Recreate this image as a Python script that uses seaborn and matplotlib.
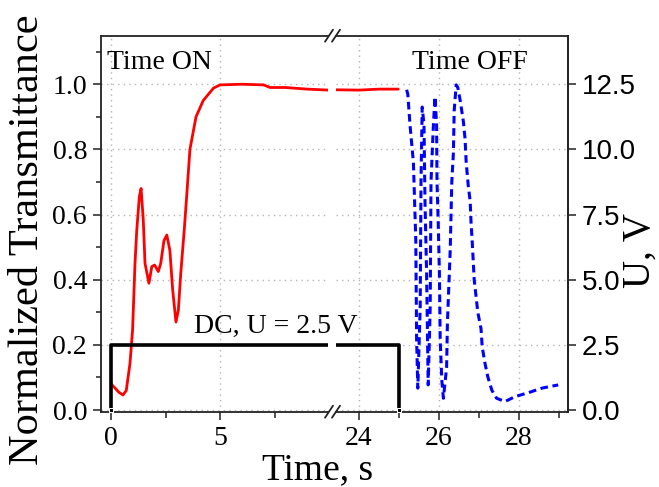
import numpy as np
import pandas as pd
import seaborn as sns
import matplotlib.pyplot as plt
from matplotlib.ticker import MultipleLocator, FixedLocator

# time ON, normalized transmittance (red)
on_t = [0, 0.15, 0.35, 0.55, 0.7, 0.87, 0.99, 1.1, 1.18, 1.3, 1.38, 1.48, 1.56, 1.74, 1.87,
        2.0, 2.17, 2.28, 2.43, 2.56, 2.7, 2.83, 2.98, 3.09, 3.2, 3.36, 3.47, 3.62, 3.9, 4.23,
        4.7, 5.0, 6.0, 7.0, 7.3, 8.0, 9.0, 10.0, 23.4, 24.0, 24.5, 24.98]
on_T = [0.08, 0.07, 0.055, 0.046, 0.06, 0.143, 0.246, 0.45, 0.55, 0.655, 0.68, 0.583, 0.45, 0.389, 0.44,
        0.445, 0.425, 0.45, 0.52, 0.537, 0.49, 0.368, 0.27, 0.307, 0.42, 0.553, 0.655, 0.80, 0.90, 0.95,
        0.988, 0.998, 1.0, 0.998, 0.99, 0.99, 0.985, 0.982, 0.983, 0.982, 0.985, 0.985]

# time OFF, normalized transmittance (blue dashed)
off_t = [25.19, 25.22, 25.275, 25.36, 25.42, 25.44, 25.47, 25.53, 25.55, 25.58, 25.625, 25.65, 25.69,
         25.73, 25.78, 25.8, 25.86, 25.9, 25.94, 25.95, 25.98, 26.01, 26.03, 26.07, 26.11, 26.19, 26.21,
         26.28, 26.32, 26.36, 26.38, 26.43, 26.47, 26.53, 26.61, 26.65, 26.68, 26.73, 26.78, 26.8, 26.83,
         26.88, 26.97, 27.05, 27.08, 27.15, 27.22, 27.32, 27.44, 27.65, 27.9, 28.23, 28.57, 28.98]
off_T = [0.983, 0.97, 0.875, 0.76, 0.52, 0.22, 0.067, 0.317, 0.70, 0.93, 0.875, 0.64, 0.42,
         0.077, 0.317, 0.70, 0.875, 0.962, 0.875, 0.70, 0.578, 0.42, 0.215, 0.092, 0.036, 0.13, 0.266,
         0.49, 0.70, 0.79, 0.92, 0.998, 0.99, 0.95, 0.885, 0.834, 0.76, 0.69, 0.64, 0.578, 0.517,
         0.40, 0.30, 0.25, 0.194, 0.143, 0.102, 0.061, 0.036, 0.026, 0.041, 0.053, 0.067, 0.077]

# DC voltage pulse
dc_t = [0, 0, 25, 25]
dc_U = [0, 2.5, 2.5, 0]

left_ticks = [0, 5]
right_ticks = [24, 26, 28]
T_ticks = [0.0, 0.2, 0.4, 0.6, 0.8, 1.0]
U_ticks = [0.0, 2.5, 5.0, 7.5, 10.0, 12.5]

sns.set_theme(style='ticks')
plt.rcParams['font.family'] = ['Liberation Serif', 'DejaVu Serif']
plt.rcParams['text.color'] = 'black'
plt.rcParams['xtick.labelcolor'] = 'black'
plt.rcParams['ytick.labelcolor'] = 'black'

W, H = 659, 487
def fx(px): return px / W
def fy(py): return 1 - py / H

fig = plt.figure(figsize=(6.59, 4.87), dpi=100)
ax_l = fig.add_axes([fx(101), fy(411.7), (328 - 101) / W, (411.7 - 35.7) / H])
ax_r = fig.add_axes([fx(336), fy(411.7), (568 - 336) / W, (411.7 - 35.7) / H])
ax_lu = ax_l.twinx()
ax_ru = ax_r.twinx()

spine_c = '#222222'
grid_kw = dict(color='#b5b5b5', linestyle=(0, (1, 3)), linewidth=1)

for ax in (ax_l, ax_r):
    sns.lineplot(x=on_t, y=on_T, ax=ax, color='#ff0000', lw=2, estimator=None, sort=False)
    sns.lineplot(x=off_t, y=off_T, ax=ax, color='#0000ff', lw=2.2, estimator=None, sort=False,
                 linestyle=(0, (2.5, 1.5)))
    ax.set_ylim(-0.0052, 1.149)
    ax.set_xlabel('')
    ax.set_ylabel('')
    ax.grid(True, which='major', **grid_kw)
    ax.set_axisbelow(True)
    for s in ax.spines.values():
        s.set_color(spine_c)
        s.set_linewidth(1.3)
    ax.tick_params(axis='x', which='major', direction='out', length=5.5, width=1.1,
                   color=spine_c, labelsize=20, pad=5, top=False)
    ax.tick_params(axis='x', which='minor', direction='out', length=4, width=1.1,
                   color=spine_c, top=False, bottom=True)

for ax in (ax_lu, ax_ru):
    sns.lineplot(x=dc_t, y=dc_U, ax=ax, color='black', lw=2.6, estimator=None, sort=False,
                 marker='s', markersize=3, markevery=[0, 3])
    ax.set_ylim(-0.0052 * 12.5, 1.149 * 12.5)
    ax.set_ylabel('')
    for s in ax.spines.values():
        s.set_visible(False)

ax_l.set_xlim(-0.459, 9.954)
ax_r.set_xlim(23.425, 29.225)
ax_lu.set_xlim(-0.459, 9.954)
ax_ru.set_xlim(23.425, 29.225)

ax_l.xaxis.set_major_locator(FixedLocator(left_ticks))
ax_l.xaxis.set_minor_locator(FixedLocator([2.5, 7.5]))
ax_r.xaxis.set_major_locator(FixedLocator(right_ticks))
ax_r.xaxis.set_minor_locator(FixedLocator([25, 27, 29]))

ax_l.spines['right'].set_visible(False)
ax_r.spines['left'].set_visible(False)
ax_l.yaxis.set_major_locator(FixedLocator(T_ticks))
ax_l.yaxis.set_minor_locator(MultipleLocator(0.1))
ax_l.set_yticklabels([f'{v:.1f}' for v in T_ticks])
ax_l.tick_params(axis='y', which='major', direction='out', length=6, width=1.1, color=spine_c,
                 labelsize=20, pad=4, right=False)
ax_l.tick_params(axis='y', which='minor', direction='out', length=3.5, width=1.1, color=spine_c,
                 right=False)
ax_r.yaxis.set_major_locator(FixedLocator(T_ticks))
ax_r.yaxis.set_minor_locator(FixedLocator([]))
ax_r.tick_params(axis='y', which='both', left=False, right=False, labelleft=False)

ax_lu.tick_params(axis='y', which='both', left=False, right=False, labelleft=False, labelright=False)
ax_lu.set_yticks([])
ax_ru.spines['right'].set_visible(True)
ax_ru.spines['right'].set_color(spine_c)
ax_ru.spines['right'].set_linewidth(1.3)
ax_ru.yaxis.set_major_locator(FixedLocator(U_ticks))
ax_ru.set_yticklabels([f'{v:.1f}' for v in U_ticks], family='Liberation Sans')
ax_ru.tick_params(axis='y', which='major', direction='out', length=6, width=1.1, color=spine_c,
                  labelsize=20, pad=4, labelcolor='black')

# break marks
for cx in (329, 336):
    for cy in (411.7, 35.7):
        fig.add_artist(plt.Line2D([fx(cx - 4), fx(cx + 4)], [fy(cy + 6), fy(cy - 6)],
                                  color=spine_c, lw=1.3, transform=fig.transFigure))

fig.text(fx(107), fy(69), 'Time ON', fontsize=20, va='baseline', ha='left')
fig.text(fx(412), fy(69), 'Time OFF', fontsize=20, va='baseline', ha='left')
fig.text(fx(194), fy(333), 'DC, U = 2.5 V', fontsize=20, va='baseline', ha='left')

fig.text(fx(28), fy(240), 'Normalized Transmittance', rotation=90, ha='center', va='center', fontsize=30.5)
fig.text(fx(318), fy(470), 'Time, s', ha='center', va='center', fontsize=27)
fig.text(fx(640), fy(251), 'U, V', rotation=90, ha='center', va='center', fontsize=28)

fig.savefig('out.png', dpi=100)
